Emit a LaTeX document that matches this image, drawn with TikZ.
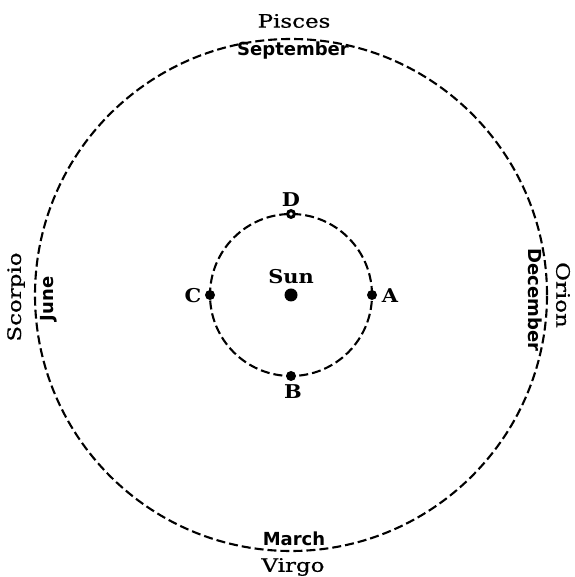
\documentclass[tikz,border=0pt]{standalone}
\usepackage{fontspec}
\usepackage{graphicx}
\usepackage{tikz}
\newfontface\starfont{DejaVu Serif}[FakeBold=0.6]
\newfontfamily\monthfont{DejaVu Sans}
\newfontface\planetfont{DejaVu Serif Bold}
\newcommand{\wide}[2]{\scalebox{#1}[1]{#2}}
\tikzset{
	constel/.style={font=\starfont\fontsize{18.5}{20}\selectfont, inner sep=0pt},
	month/.style={font=\monthfont\bfseries\fontsize{18}{20}\selectfont, inner sep=0pt},
	planet/.style={font=\planetfont\fontsize{19}{20}\selectfont, inner sep=0pt},
	orbit/.style={line width=2.1pt, dash pattern=on 9pt off 4pt},
	dot/.style={circle, fill=black, inner sep=0pt, minimum size=10pt},
}

\begin{document}
\begin{tikzpicture}[x=1pt,y=1pt]
		\useasboundingbox (0,0) rectangle (574,577);
		\coordinate (centre) at (291,282);
		\draw[orbit] (centre) circle (256);
		\draw[orbit] (centre) circle (81);
		% sun and the four places of the earth
		\node[dot, minimum size=13pt] (sun) at (centre) {};
		\node[dot] (A) at (372,282) {};
		\node[dot] (B) at (291,201) {};
		\node[dot] (C) at (210,282) {};
		\node[dot] (D) at (291,363) {};
		\fill[white] (D) circle (1.8);
		\node[planet] (lsun) at (291,300) {\wide{1.1}{Sun}};
		\node[planet] (lA) at (390,281) {\wide{1.1}{A}};
		\node[planet] (lB) at (293,185) {\wide{1.1}{B}};
		\node[planet] (lC) at (193,281) {\wide{1.1}{C}};
		\node[planet] (lD) at (291,377) {\wide{1.1}{D}};
		% constellations and months
		\node[constel] (pisces) at (294,556) {\wide{1.24}{Pisces}};
		\node[month] (sept) at (293,526) {September};
		\node[month] (march) at (294,38) {March};
		\node[constel] (virgo) at (293,10) {\wide{1.24}{Virgo}};
		\node[constel, rotate=90] (scorpio) at (16,280) {\wide{1.24}{Scorpio}};
		\node[month, rotate=90] (june) at (49,278) {June};
		\node[constel, rotate=-90] (orion) at (563,282) {\wide{1.24}{Orion}};
		\node[month, rotate=-90] (dec) at (535,277) {December};
\end{tikzpicture}
\end{document}
